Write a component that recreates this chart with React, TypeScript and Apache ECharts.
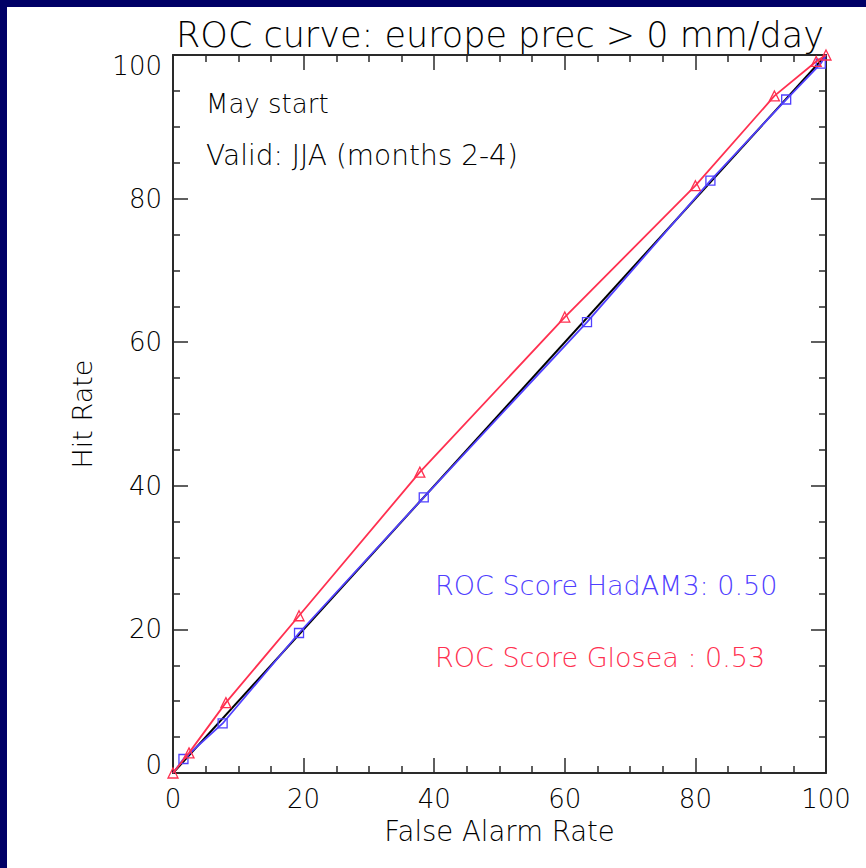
import React, { useEffect, useRef } from "react";
import * as echarts from "echarts";

const hadFalseAlarm = [0, 1.6, 7.6, 19.3, 38.4, 63.4, 82.3, 93.9, 99.2, 100];
const hadHitRate = [0, 1.95, 6.9, 19.5, 38.4, 62.8, 82.5, 93.8, 98.8, 100];
const gloFalseAlarm = [0, 2.45, 8.1, 19.3, 37.8, 60.0, 80.0, 92.1, 98.5, 100];
const gloHitRate = [0, 2.8, 9.8, 21.9, 41.9, 63.5, 81.8, 94.3, 99.1, 100];
const diagX = [0, 100];
const diagY = [0, 100];

const titleText = "ROC curve: europe prec > 0 mm/day";
const note1 = "May start";
const note2 = "Valid: JJA (months 2-4)";
const scoreHad = "ROC Score HadAM3: 0.50";
const scoreGlo = "ROC Score Glosea : 0.53";

const BLUE = "#5040ff";
const RED = "#ff3050";
const NAVY = "#000066";
const AXIS = "#2a2a2a";
const FONT = "'DejaVu Sans', sans-serif";

export default function App() {
  const ref = useRef<HTMLDivElement>(null);
  useEffect(() => {
    if (!ref.current) return;
    const chart = echarts.init(ref.current, null, { renderer: "svg" });
    const grid = { left: 173, top: 55, width: 653, height: 718 };
    const txt = { fontFamily: FONT, fontWeight: 200 as any };
    const mkAxis = (extra: any) => ({
      min: 0,
      max: 100,
      interval: 20,
      splitNumber: 5,
      axisLine: { show: true, onZero: false, lineStyle: { color: AXIS, width: 2 } },
      axisTick: { show: true, inside: true, length: 15, lineStyle: { color: AXIS, width: 1.5 } },
      minorTick: { show: true, splitNumber: 4, length: 7, lineStyle: { color: AXIS, width: 1.5 } },
      splitLine: { show: false },
      ...extra,
    });
    const hadData = hadFalseAlarm.map((x, i) => {
      const end = i === 0 || i === hadFalseAlarm.length - 1;
      return end ? { value: [x, hadHitRate[i]], symbol: "none" } : { value: [x, hadHitRate[i]] };
    });
    const gloData = gloFalseAlarm.map((x, i) => ({ value: [x, gloHitRate[i]] }));
    chart.setOption({
      animation: false,
      backgroundColor: NAVY,
      graphic: [
        { type: "rect", shape: { x: 7, y: 7, width: 870, height: 870 }, style: { fill: "#ffffff" }, z: -10 },
        { type: "text", x: 500, y: 35, style: { text: titleText, ...txt, fontSize: 35, fill: "#000", textAlign: "center", textVerticalAlign: "middle" } },
        { type: "text", x: 206, y: 104, style: { text: note1, ...txt, fontSize: 26, fill: "#000", textVerticalAlign: "middle" } },
        { type: "text", x: 206, y: 155, style: { text: note2, ...txt, fontSize: 28, fill: "#000", textVerticalAlign: "middle" } },
        { type: "text", x: 435, y: 585, style: { text: scoreHad, ...txt, fontSize: 27, fill: BLUE, textVerticalAlign: "middle" } },
        { type: "text", x: 435, y: 657, style: { text: scoreGlo, ...txt, fontSize: 27, fill: RED, textVerticalAlign: "middle" } },
      ],
      grid,
      xAxis: [
        mkAxis({
          type: "value",
          position: "bottom",
          name: "False Alarm Rate",
          nameLocation: "middle",
          nameGap: 44,
          nameTextStyle: { ...txt, fontSize: 27.5, color: "#000" },
          axisLabel: { ...txt, fontSize: 26, color: "#000", margin: 13 },
        }),
        mkAxis({ type: "value", position: "top", axisLabel: { show: false } }),
      ],
      yAxis: [
        mkAxis({
          type: "value",
          position: "left",
          name: "Hit Rate",
          nameLocation: "middle",
          nameGap: 77,
          nameTextStyle: { ...txt, fontSize: 27, color: "#000" },
          axisLabel: {
            ...txt,
            fontSize: 26,
            color: "#000",
            margin: 11,
            formatter: (v: number) => (v === 100 ? "{t|100}" : v === 0 ? "{b|0}" : String(v)),
            rich: {
              t: { ...txt, fontSize: 26, color: "#000", padding: [21, 0, 0, 0] },
              b: { ...txt, fontSize: 26, color: "#000", padding: [0, 0, 16, 0] },
            },
          },
        }),
        mkAxis({ type: "value", position: "right", axisLabel: { show: false } }),
      ],
      series: [
        {
          type: "line",
          data: diagX.map((x, i) => [x, diagY[i]]),
          symbol: "none",
          lineStyle: { color: "#000", width: 2 },
          clip: false,
          z: 2,
        },
        {
          type: "line",
          data: hadData,
          symbol: "rect",
          symbolSize: 9,
          itemStyle: { color: "rgba(0,0,0,0)", borderColor: BLUE, borderWidth: 1.3 },
          lineStyle: { color: BLUE, width: 1.8 },
          clip: false,
          z: 3,
        },
        {
          type: "line",
          data: gloData,
          symbol: "triangle",
          symbolSize: 10,
          itemStyle: { color: "rgba(0,0,0,0)", borderColor: RED, borderWidth: 1.3 },
          lineStyle: { color: RED, width: 1.8 },
          clip: false,
          z: 4,
        },
      ],
    });
    return () => chart.dispose();
  }, []);
  return (
    <div
      ref={ref}
      style={{ position: "fixed", left: 0, top: 0, width: 866, height: 868 }}
    />
  );
}
